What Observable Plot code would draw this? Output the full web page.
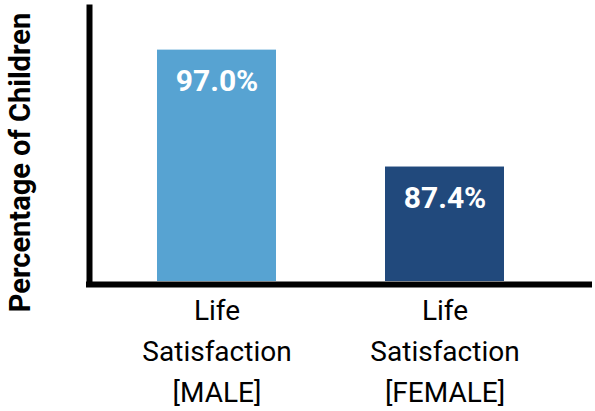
<!DOCTYPE html>
<html>
<head>
<meta charset="utf-8">
<script src="https://cdn.jsdelivr.net/npm/d3@7"></script>
<script src="https://cdn.jsdelivr.net/npm/@observablehq/plot@0.6"></script>
<style>
  html, body { margin: 0; padding: 0; background: #fff; }
  svg { display: block; }
</style>
</head>
<body>
<div id="chart"></div>
<script>
// Share of children reporting life satisfaction, by sex
const categories = ["Life\nSatisfaction\n[MALE]", "Life\nSatisfaction\n[FEMALE]"];
const values = [97.0, 87.4];
const colors = ["#57a3d2", "#21497c"];
const yTitle = "Percentage of Children";

const data = categories.map((c, i) => ({category: c, value: values[i], color: colors[i]}));

const font = "Roboto, 'Noto Sans', sans-serif";

const chart = Plot.plot({
  width: 595,
  height: 411,
  marginLeft: 89,
  marginRight: 3,
  marginTop: 7,
  marginBottom: 130,
  style: {fontFamily: font, background: "#fff"},
  x: {domain: categories, range: [89, 572], paddingInner: 0.476, paddingOuter: 0.293, axis: null},
  y: {domain: [78, 100.5], axis: null},
  marks: [
    Plot.barY(data, {x: "category", y1: 78, y2: "value", fill: "color"}),
    Plot.text(data, {
      x: "category", y: "value", text: d => d.value.toFixed(1) + "%",
      fill: "#fff", fontSize: 30, fontWeight: "bold", lineAnchor: "top", dy: 20
    }),
    // category labels below the baseline
    Plot.text(data, {
      x: "category", text: "category", frameAnchor: "bottom",
      fill: "#000", fontSize: 28, lineHeight: 1.45, lineAnchor: "top", dy: 10
    }),
    // y axis title
    Plot.text([yTitle], {
      text: d => d, frameAnchor: "left", textAnchor: "middle", rotate: -90,
      fill: "#000", fontSize: 29, fontWeight: "bold", dx: -69, dy: 18
    }),
    // axis lines
    Plot.frame({anchor: "left", stroke: "#000", strokeWidth: 6}),
    Plot.ruleY([78], {stroke: "#000", strokeWidth: 6, dy: 3, insetLeft: -3})
  ]
});

document.getElementById("chart").append(chart);
</script>
</body>
</html>
